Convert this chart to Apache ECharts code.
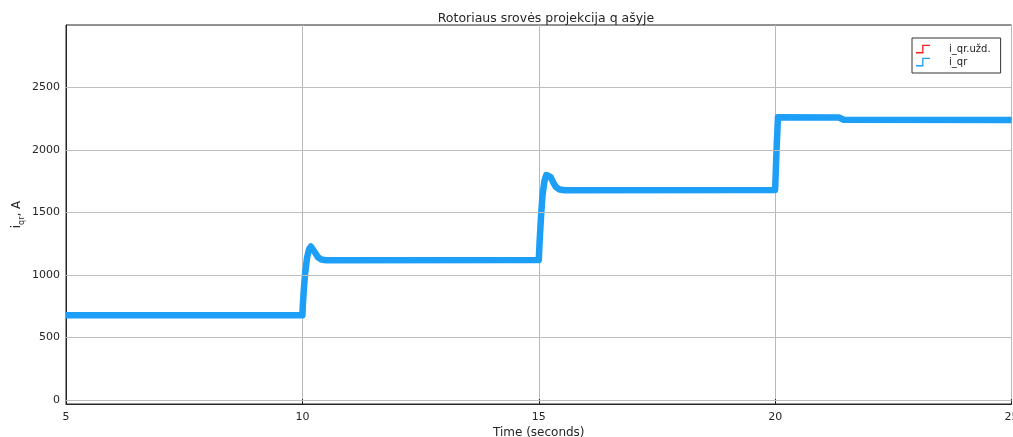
<!DOCTYPE html>
<html>
<head>
<meta charset="utf-8">
<script src="https://cdn.jsdelivr.net/npm/echarts@6/dist/echarts.min.js"></script>
<style>
html,body{margin:0;padding:0;background:#fff;}
#c{width:1013px;height:437px;}
</style>
</head>
<body>
<div id="c"></div>
<script>
// ---- data ----
var xTicks = [5, 10, 15, 20, 25];
var yTicks = [0, 500, 1000, 1500, 2000, 2500];

// reference (i_qr.užd.) — plateaus ('-' = gap during transients)
var refTime  = [5, 10, 10, 10.45, 15, 15, 15.5, 20, 20, 20.06, 25];
var refValue = [675, 675, '-', 1120, 1120, '-', 1680, 1680, '-', 2250, 2250];

// measured (i_qr)
var measTime  = [5, 10, 10.01, 10.03, 10.06, 10.1, 10.14, 10.18, 10.22, 10.27, 10.33, 10.4, 10.5, 15,
                 15, 15.02, 15.05, 15.08, 15.12, 15.16, 15.2, 15.25, 15.3, 15.36, 15.44, 15.55, 20,
                 20, 20.03, 20.06, 21.35, 21.45, 25];
var measValue = [678, 678, 760, 880, 1020, 1140, 1205, 1228, 1215, 1178, 1142, 1124, 1118, 1120,
                 1120, 1280, 1480, 1640, 1750, 1800, 1810, 1785, 1745, 1705, 1684, 1678, 1680,
                 1680, 2000, 2262, 2260, 2242, 2240];

function pairs(t, v) { return t.map(function (x, i) { return [x, v[i]]; }); }

var stepIcon = 'path://M0,8.5 L7,8.5 L7,0 L16,0 L16,1.5 L8.5,1.5 L8.5,10 L0,10 Z';
var FONT = 'DejaVu Sans';

var chart = echarts.init(document.getElementById('c'), null, {renderer: 'canvas'});
chart.setOption({
  animation: false,
  backgroundColor: '#ffffff',
  title: {
    text: 'Rotoriaus srovės projekcija q ašyje',
    left: 541, textAlign: 'center', top: 7,
    textStyle: {fontFamily: FONT, fontSize: 12.5, fontWeight: 'normal', color: '#262626'}
  },
  legend: {
    orient: 'vertical',
    left: 912, top: 38,
    backgroundColor: '#fff',
    borderColor: '#333', borderWidth: 1, borderRadius: 0,
    padding: [6, 10, 6, 4],
    itemGap: 3,
    itemWidth: 14, itemHeight: 10,
    textStyle: {fontFamily: FONT, fontSize: 10, color: '#222', padding: [0, 0, 0, 14]},
    data: [
      {name: 'i_qr.užd.', icon: stepIcon},
      {name: 'i_qr', icon: stepIcon}
    ]
  },
  grid: {
    left: 66, right: 1.5, top: 25, bottom: 33,
    outerBoundsMode: 'none', containLabel: false,
    show: true, borderColor: '#262626', borderWidth: 1, backgroundColor: '#fff'
  },
  xAxis: {
    type: 'value', min: 5, max: 25, interval: 5,
    name: 'Time (seconds)', nameLocation: 'middle', nameGap: 23, nameMoveOverlap: false,
    nameTextStyle: {fontFamily: FONT, fontSize: 12, color: '#262626'},
    axisLine: {show: true, onZero: false, lineStyle: {color: '#262626', width: 1}},
    axisTick: {show: true, inside: true, length: 5, lineStyle: {color: '#262626'}},
    axisLabel: {fontFamily: FONT, fontSize: 11, color: '#262626', margin: 8,
                formatter: function (v) { return String(v); }},
    splitLine: {show: true, lineStyle: {color: '#b8b8b8', width: 1}}
  },
  yAxis: {
    type: 'value', min: -32, max: 3000,
    name: '{a|i}{s|qr}{a|, A}', nameLocation: 'middle', nameGap: 40, nameRotate: 90,
    nameMoveOverlap: false,
    nameTextStyle: {
      rich: {
        a: {fontFamily: FONT, fontSize: 12, color: '#262626', lineHeight: 18, verticalAlign: 'middle'},
        s: {fontFamily: FONT, fontSize: 8, color: '#262626', lineHeight: 18, verticalAlign: 'bottom'}
      }
    },
    axisLine: {show: true, onZero: false, lineStyle: {color: '#262626', width: 1}},
    axisTick: {show: true, inside: true, length: 5, customValues: yTicks, lineStyle: {color: '#262626'}},
    axisLabel: {fontFamily: FONT, fontSize: 11, color: '#262626', margin: 6, customValues: yTicks,
                formatter: function (v) { return String(v); }},
    splitLine: {show: false}
  },
  series: [
    {
      name: 'grid-h', type: 'line', data: [], silent: true,
      markLine: {
        silent: true, symbol: ['none', 'none'], animation: false,
        label: {show: false},
        lineStyle: {color: '#bdbdbd', width: 1, type: 'solid'},
        data: yTicks.map(function (v) { return {yAxis: v}; })
      }
    },
    {
      name: 'i_qr.užd.', type: 'line', data: pairs(refTime, refValue),
      showSymbol: false, symbol: 'none', color: '#ff1f1f', connectNulls: false,
      lineStyle: {color: '#ff1f1f', width: 1.5}
    },
    {
      name: 'i_qr', type: 'line', data: pairs(measTime, measValue),
      showSymbol: false, symbol: 'none', color: '#1e9ff7',
      lineStyle: {color: '#1e9ff7', width: 6.5, join: 'round'}
    }
  ]
});
</script>
</body>
</html>
